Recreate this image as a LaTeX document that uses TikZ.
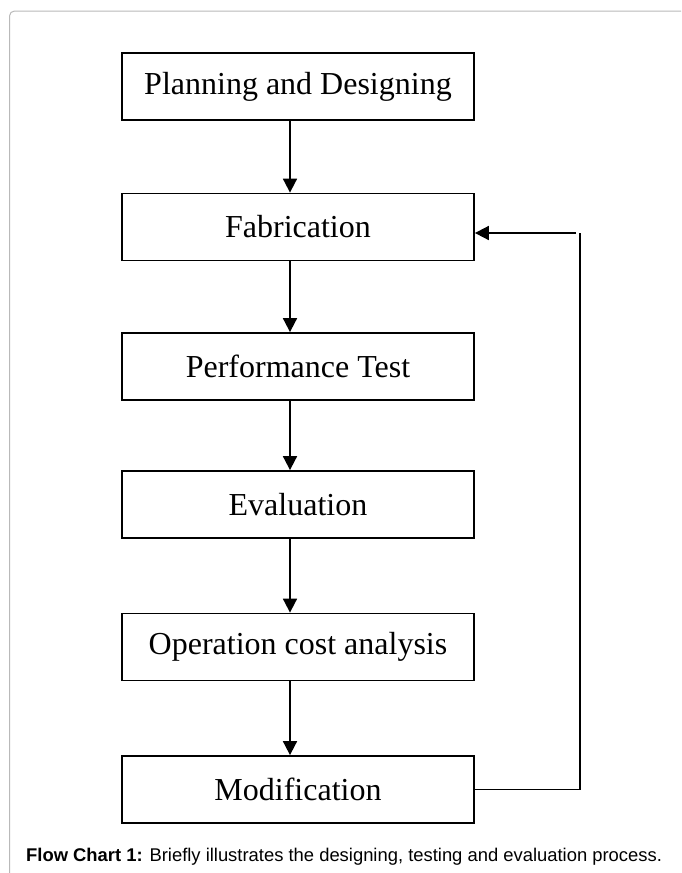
\documentclass[tikz,border=0pt]{standalone}
\usepackage{fontspec}
\setmainfont{Liberation Serif}
\newfontfamily\capfont{Liberation Sans}
\usepackage{tikz}
\usetikzlibrary{arrows.meta, positioning, calc}

\tikzset{
  stagebox/.style={draw, line width=1.8pt, minimum width=352pt, minimum height=67pt,
    inner sep=0pt, font=\fontsize{32}{38}\selectfont},
  flowarrow/.style={line width=1.8pt, -{Triangle[length=14pt, width=14pt]}},
  flowline/.style={line width=1.8pt}
}

\begin{document}
\begin{tikzpicture}[x=1pt, y=-1pt]
  \useasboundingbox (0,0) rectangle (681,873);

  % panel frame
  \draw[gray!55, line width=1pt, rounded corners=5pt] (9.5,873) -- (9.5,11) -- (681,11);

  % stages
  \node[stagebox] (plan) at (298,86.5) {Planning and Designing};
  \node[stagebox] (fab)  at (298,227)  {Fabrication};
  \node[stagebox] (test) at (298,366.5) {Performance Test};
  \node[stagebox] (eval) at (298,504.5) {Evaluation};
  \node[stagebox] (cost) at (298,647)  {Operation cost analysis};
  \node[stagebox] (mod)  at (298,789.5) {Modification};

  % downward arrows
  \foreach \a/\b in {plan/fab, fab/test, test/eval, eval/cost, cost/mod}{
    \draw[flowarrow] ([xshift=-8pt]\a.south) -- ([xshift=-8pt]\b.north);
  }

  % feedback loop
  \coordinate (loop) at (580,233);
  \draw[flowline] (mod.east) -| (loop);
  \draw[flowarrow] ([xshift=-4pt]loop) -- ([yshift=-6pt]fab.east);

  % caption
  \node[anchor=base west, inner sep=0pt, font=\capfont\fontsize{18.4}{22}\selectfont] (caption)
    at (26,861) {\textbf{Flow Chart 1:} Briefly illustrates the designing, testing and evaluation process.};
\end{tikzpicture}
\end{document}
